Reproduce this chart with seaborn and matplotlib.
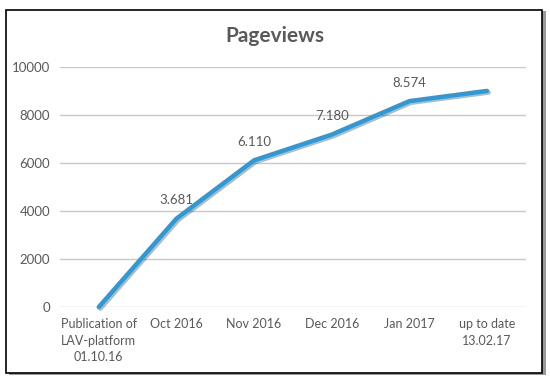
import matplotlib
matplotlib.use("Agg")
import matplotlib.pyplot as plt
import matplotlib.patheffects as pe
from matplotlib.patches import Rectangle
import seaborn as sns
import pandas as pd

categories = ["Publication of\nLAV-platform\n01.10.16", "Oct 2016", "Nov 2016",
              "Dec 2016", "Jan 2017", "up to date\n13.02.17"]
pageviews = [0, 3681, 6110, 7180, 8574, 9000]
point_labels = ["", "3.681", "6.110", "7.180", "8.574", ""]

df = pd.DataFrame({"period": categories, "views": pageviews})

sns.set_theme(style="white")
plt.rcParams["font.family"] = ["Lato", "DejaVu Sans"]

grey = "#595959"
fig = plt.figure(figsize=(5.5, 3.8), dpi=100)
ax = fig.add_axes([0.109, 0.192, 0.847, 0.632])
ax.set_zorder(5)

# frame with a small shadow around the whole chart
fig.patches.append(Rectangle((0.016, 0.012), 0.976, 0.958, transform=fig.transFigure,
                             facecolor="#9a9a9a", edgecolor="none", zorder=0))
fig.patches.append(Rectangle((0.011, 0.018), 0.974, 0.956, transform=fig.transFigure,
                             facecolor="white", edgecolor="black", linewidth=1.2, zorder=1))

x = list(range(len(categories)))
sns.lineplot(x=x, y=df["views"], ax=ax, color="#2B9AD8", linewidth=3.2,
             clip_on=False, zorder=3,
             path_effects=[pe.SimpleLineShadow(offset=(1.2, -1.2), alpha=0.3),
                           pe.Normal()])

for xi, v, lab in zip(x, pageviews, point_labels):
    if lab:
        ax.annotate(lab, (xi, v), xytext=(0, 9), textcoords="offset points",
                    ha="center", va="bottom", fontsize=9.5, color=grey)

ax.set_xlim(-0.5, len(categories) - 0.5)
ax.set_ylim(0, 10000)
ax.set_yticks(range(0, 10001, 2000))
ax.set_xticks(x)
ax.set_xticklabels(categories, fontsize=9, color=grey, linespacing=1.45)
ax.tick_params(axis="y", labelsize=9.5, labelcolor=grey, length=0, pad=7)
ax.tick_params(axis="x", length=0, pad=8)
ax.set_xlabel("")
ax.set_ylabel("")
ax.grid(axis="y", color="#c8c8c8", linewidth=1)
ax.set_axisbelow(True)
for s in ax.spines.values():
    s.set_visible(False)
ax.patch.set_alpha(0)

fig.text(0.5, 0.905, "Pageviews", ha="center", va="center", fontsize=15,
         fontweight="bold", color=grey, zorder=6)

fig.savefig("out.png", dpi=100)
